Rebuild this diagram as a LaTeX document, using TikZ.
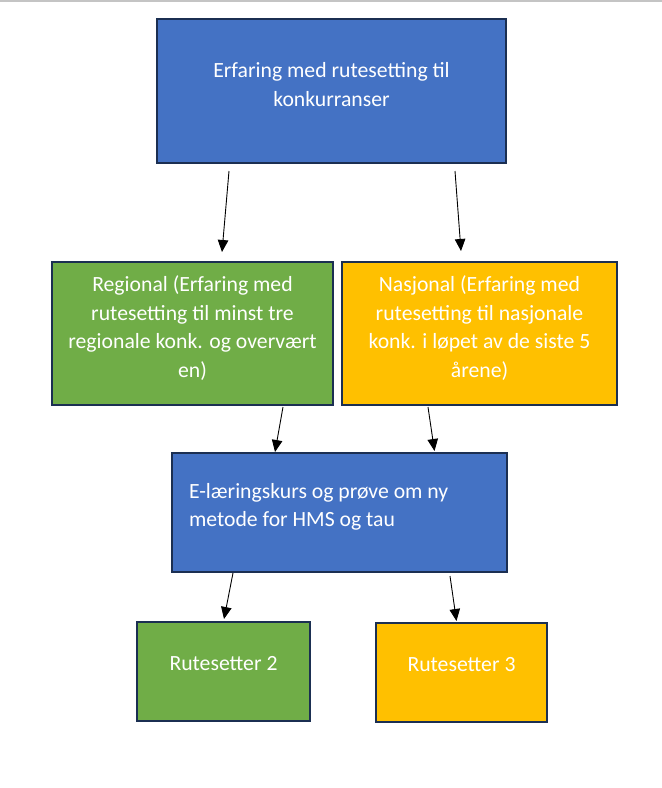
\documentclass[tikz,border=0pt]{standalone}
\usepackage{fontspec}
\setmainfont{Carlito}
\usetikzlibrary{arrows.meta}
\definecolor{boxblue}{HTML}{4472C4}
\definecolor{boxgreen}{HTML}{70AD47}
\definecolor{boxgold}{HTML}{FFC000}
\definecolor{boxedge}{HTML}{1B2F52}
\definecolor{topline}{HTML}{C4C4C4}
\newcommand{\boxtextc}[2][9pt]{\begin{tabular}{@{}c@{}}#2\\[#1]\end{tabular}}
\newcommand{\boxtextl}[2][11pt]{\makebox[301pt][l]{\begin{tabular}{@{}l@{}}#2\\[#1]\end{tabular}}}
\tikzset{
  box/.style={draw=boxedge, line width=2pt, rectangle, text=white, align=center,
    inner sep=0pt, font=\fontsize{21.7pt}{28.5pt}\selectfont},
  arr/.style={draw=black, line width=0.9pt, -{Triangle[length=12pt,width=10.5pt]}},
}
\begin{document}
\begin{tikzpicture}[x=1pt,y=-1pt]
\useasboundingbox (0,0) rectangle (662,788);
\fill[white] (0,0) rectangle (662,788);
\draw[topline, line width=1.5pt] (0,0.75) -- (662,0.75);

\node[box, fill=boxblue, minimum width=349pt, minimum height=144pt] (top) at (331.5,91)
  {\boxtextc{Erfaring med rutesetting til\\konkurranser}};
\node[box, fill=boxgreen, minimum width=281pt, minimum height=143pt] (reg) at (192.5,333.5)
  {\boxtextc{Regional (Erfaring med\\rutesetting til minst tre\\regionale konk. og overvært\\en)}};
\node[box, fill=boxgold, minimum width=275pt, minimum height=143pt] (nas) at (479.5,333.5)
  {\boxtextc{Nasjonal (Erfaring med\\rutesetting til nasjonale\\konk. i løpet av de siste 5\\årene)}};
\node[box, fill=boxblue, minimum width=335pt, minimum height=119pt] (elr) at (339.5,512.5)
  {\boxtextl{E-læringskurs og prøve om ny\\metode for HMS og tau}};
\node[box, fill=boxgreen, minimum width=173pt, minimum height=99pt] (r2) at (223.5,671.5)
  {\boxtextc[14pt]{Rutesetter 2}};
\node[box, fill=boxgold, minimum width=171pt, minimum height=99pt] (r3) at (461.5,672.5)
  {\boxtextc[14pt]{Rutesetter 3}};

\draw[arr] ([xshift=-102.5pt,yshift=-7pt]top.south) -- ([xshift=29.5pt,yshift=9pt]reg.north);
\draw[arr] ([xshift=123.5pt,yshift=-7pt]top.south) -- ([xshift=-18.5pt,yshift=10pt]nas.north);
\draw[arr] ([xshift=90.5pt,yshift=-1pt]reg.south) -- ([xshift=-64.5pt,yshift=0pt]elr.north);
\draw[arr] ([xshift=-51.5pt,yshift=-1pt]nas.south) -- ([xshift=95pt,yshift=1pt]elr.north);
\draw[arr] ([xshift=-106.5pt,yshift=0pt]elr.south) -- ([xshift=0.5pt,yshift=2pt]r2.north);
\draw[arr] ([xshift=110.5pt,yshift=-3pt]elr.south) -- ([xshift=-5pt,yshift=1pt]r3.north);
\end{tikzpicture}
\end{document}
